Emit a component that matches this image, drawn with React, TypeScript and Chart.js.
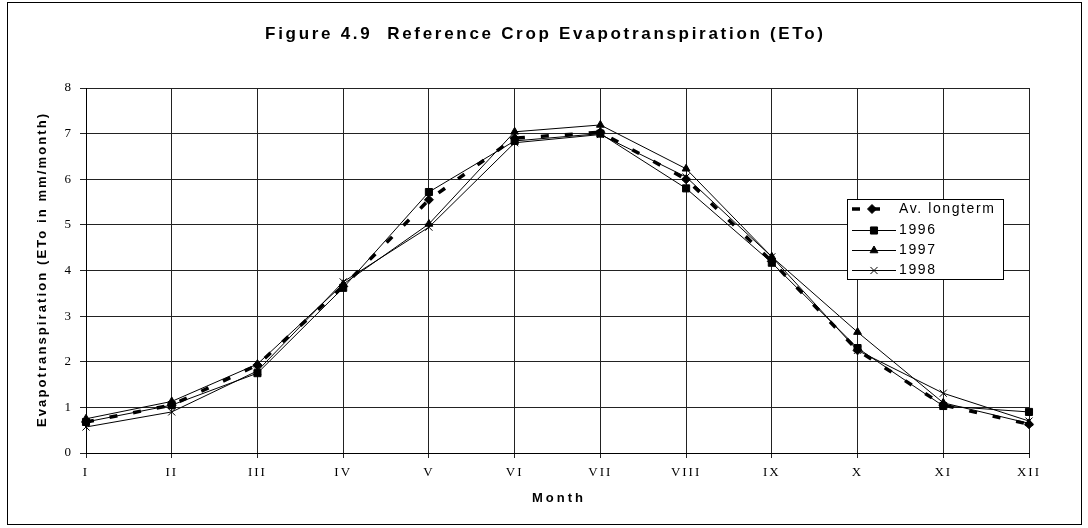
import React, { useEffect, useRef } from 'react';
import { Chart, registerables } from 'chart.js';

Chart.register(...registerables);

// ---- data ----
const months = ['I', 'II', 'III', 'IV', 'V', 'VI', 'VII', 'VIII', 'IX', 'X', 'XI', 'XII'];
const avLongterm = [0.68, 1.05, 1.93, 3.65, 5.55, 6.9, 7.03, 6.0, 4.2, 2.25, 1.05, 0.63];
const eto1996 = [0.68, 1.05, 1.75, 3.62, 5.72, 6.84, 7.0, 5.8, 4.17, 2.3, 1.03, 0.9];
const eto1997 = [0.75, 1.13, 1.95, 3.7, 5.02, 7.04, 7.19, 6.23, 4.3, 2.65, 1.1, 0.65];
const eto1998 = [0.57, 0.9, 1.8, 3.75, 4.95, 6.8, 6.98, 6.05, 4.3, 2.25, 1.31, 0.7];
const seriesNames = ['Av. longterm', '1996', '1997', '1998'];
const yMin = 0;
const yMax = 8;
const yStep = 1;

const titleText = 'Figure 4.9  Reference Crop Evapotranspiration (ETo)';
const xTitleText = 'Month';
const yTitleText = 'Evapotranspiration (ETo in mm/month)';

// ---- style ----
const W = 1088;
const H = 528;
const SANS = "'Liberation Sans', Arial, sans-serif";
const SERIF = "'Liberation Serif', 'Times New Roman', serif";
const INK = '#000';
const GRID = '#222';

function drawMarker(ctx: CanvasRenderingContext2D, style: string, x: number, y: number, r: number) {
  ctx.save();
  ctx.fillStyle = INK;
  ctx.strokeStyle = INK;
  ctx.lineWidth = 1;
  ctx.setLineDash([]);
  ctx.beginPath();
  if (style === 'rect') {
    const s = Math.SQRT1_2 * r;
    ctx.rect(x - s, y - s, 2 * s, 2 * s);
    ctx.fill();
    ctx.stroke();
  } else if (style === 'triangle') {
    let a = 0;
    ctx.moveTo(x + Math.sin(a) * r, y - Math.cos(a) * r);
    a += (2 * Math.PI) / 3;
    ctx.lineTo(x + Math.sin(a) * r, y - Math.cos(a) * r);
    a += (2 * Math.PI) / 3;
    ctx.lineTo(x + Math.sin(a) * r, y - Math.cos(a) * r);
    ctx.closePath();
    ctx.fill();
    ctx.stroke();
  } else if (style === 'crossRot') {
    const s = Math.SQRT1_2 * r;
    ctx.moveTo(x - s, y - s);
    ctx.lineTo(x + s, y + s);
    ctx.moveTo(x - s, y + s);
    ctx.lineTo(x + s, y - s);
    ctx.stroke();
  } else if (style === 'rectRot') {
    ctx.moveTo(x, y - r);
    ctx.lineTo(x + r, y);
    ctx.lineTo(x, y + r);
    ctx.lineTo(x - r, y);
    ctx.closePath();
    ctx.fill();
    ctx.stroke();
  }
  ctx.restore();
}

function spacedText(
  ctx: CanvasRenderingContext2D,
  text: string,
  x: number,
  y: number,
  font: string,
  spacing: number,
  align: CanvasTextAlign,
  rotate = 0
) {
  ctx.save();
  ctx.translate(x, y);
  if (rotate) ctx.rotate(rotate);
  ctx.font = font;
  (ctx as any).letterSpacing = spacing + 'px';
  ctx.textAlign = align;
  ctx.textBaseline = 'middle';
  ctx.fillStyle = INK;
  const dx = align === 'center' ? spacing / 2 : 0;
  ctx.fillText(text, dx, 0);
  ctx.restore();
}

const decorPlugin = {
  id: 'decor',
  beforeDraw(chart: any) {
    const ctx: CanvasRenderingContext2D = chart.ctx;
    ctx.save();
    ctx.fillStyle = '#fff';
    ctx.fillRect(0, 0, W, H);
    ctx.restore();
    (ctx as any).letterSpacing = '2px';
  },
  afterDraw(chart: any) {
    const ctx: CanvasRenderingContext2D = chart.ctx;
    (ctx as any).letterSpacing = '0px';
    const area = chart.chartArea;

    // outer frame
    ctx.save();
    ctx.strokeStyle = INK;
    ctx.lineWidth = 1;
    ctx.strokeRect(7.5, 2.5, 1074, 522);
    ctx.restore();

    // title
    spacedText(ctx, titleText, W / 2, 34, `bold 17px ${SANS}`, 2.7, 'center');
    // x title
    spacedText(ctx, xTitleText, (area.left + area.right) / 2, 498, `bold 13px ${SANS}`, 3, 'center');
    // y title
    spacedText(ctx, yTitleText, 42, (area.top + area.bottom) / 2, `bold 13px ${SANS}`, 2.1, 'center', -Math.PI / 2);

    // legend
    const bx = 847.5, by = 199.5, bw = 156, bh = 80;
    ctx.save();
    ctx.fillStyle = '#fff';
    ctx.fillRect(bx, by, bw, bh);
    ctx.strokeStyle = INK;
    ctx.lineWidth = 1;
    ctx.strokeRect(bx, by, bw, bh);
    ctx.restore();

    const rowY = [209, 230, 250, 270];
    const styles = ['rectRot', 'rect', 'triangle', 'crossRot'];
    seriesNames.forEach((name, i) => {
      const y = rowY[i];
      ctx.save();
      ctx.strokeStyle = INK;
      if (i === 0) {
        ctx.lineWidth = 3.5;
        ctx.setLineDash([8, 12]);
        ctx.beginPath();
        ctx.moveTo(852, y);
        ctx.lineTo(884, y);
        ctx.stroke();
        ctx.restore();
        drawMarker(ctx, styles[i], 872, y, 4.5);
      } else {
        ctx.lineWidth = 1;
        ctx.beginPath();
        ctx.moveTo(852, y + 0.5);
        ctx.lineTo(896, y + 0.5);
        ctx.stroke();
        ctx.restore();
        drawMarker(ctx, styles[i], 874, y + 0.5, i === 2 ? 4.5 : 5);
      }
      spacedText(ctx, name, 899, y, `14px ${SANS}`, 1.6, 'left');
    });
  },
};

export default function App() {
  const canvasRef = useRef<HTMLCanvasElement | null>(null);

  useEffect(() => {
    const canvas = canvasRef.current;
    if (!canvas) return;
    const chart = new Chart(canvas, {
      type: 'line',
      data: {
        labels: months,
        datasets: [
          {
            label: seriesNames[0],
            data: avLongterm,
            borderColor: INK,
            backgroundColor: INK,
            borderWidth: 3.5,
            borderDash: [8, 16],
            pointStyle: 'rectRot',
            pointRadius: 4.5,
            pointBorderWidth: 1,
            pointBackgroundColor: INK,
            pointBorderColor: INK,
            tension: 0,
            fill: false,
          },
          {
            label: seriesNames[1],
            data: eto1996,
            borderColor: INK,
            backgroundColor: INK,
            borderWidth: 1,
            pointStyle: 'rect',
            pointRadius: 5,
            pointBorderWidth: 1,
            pointBackgroundColor: INK,
            pointBorderColor: INK,
            tension: 0,
            fill: false,
          },
          {
            label: seriesNames[2],
            data: eto1997,
            borderColor: INK,
            backgroundColor: INK,
            borderWidth: 1,
            pointStyle: 'triangle',
            pointRadius: 4.5,
            pointBorderWidth: 1,
            pointBackgroundColor: INK,
            pointBorderColor: INK,
            tension: 0,
            fill: false,
          },
          {
            label: seriesNames[3],
            data: eto1998,
            borderColor: INK,
            backgroundColor: INK,
            borderWidth: 1,
            pointStyle: 'crossRot',
            pointRadius: 5,
            pointBorderWidth: 1,
            pointBackgroundColor: INK,
            pointBorderColor: INK,
            tension: 0,
            fill: false,
          },
        ],
      },
      options: {
        responsive: false,
        animation: false,
        devicePixelRatio: 1,
        layout: { padding: { left: 0, top: 88, right: 59, bottom: 0 } },
        plugins: {
          legend: { display: false },
          title: { display: false },
          tooltip: { enabled: false },
        },
        scales: {
          x: {
            type: 'category',
            offset: false,
            grid: { color: GRID, lineWidth: 1, tickLength: 5, drawTicks: true },
            border: { color: INK, width: 1 },
            ticks: {
              color: INK,
              font: { family: SERIF, size: 13 },
              padding: 7,
              maxRotation: 0,
              autoSkip: false,
            },
            afterFit: (s: any) => {
              s.height = 75;
            },
          },
          y: {
            min: yMin,
            max: yMax,
            grid: { color: GRID, lineWidth: 1, tickLength: 6, drawTicks: true },
            border: { color: INK, width: 1 },
            ticks: {
              stepSize: yStep,
              color: INK,
              font: { family: SERIF, size: 13 },
              padding: 7,
            },
            afterFit: (s: any) => {
              s.width = 86;
            },
          },
        },
      } as any,
      plugins: [decorPlugin],
    });
    return () => chart.destroy();
  }, []);

  return (
    <div style={{ position: 'absolute', left: 0, top: 0, width: W, height: H, background: '#fff' }}>
      <canvas ref={canvasRef} width={W} height={H} style={{ width: W, height: H, display: 'block' }} />
    </div>
  );
}
